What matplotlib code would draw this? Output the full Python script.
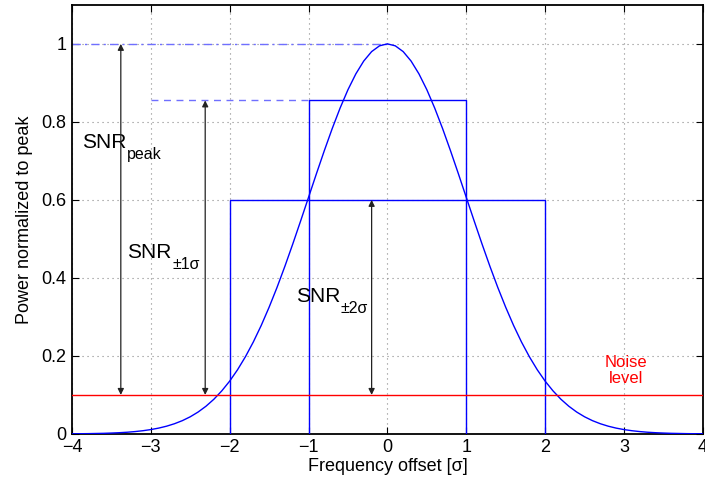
import numpy as np
import matplotlib
matplotlib.use('Agg')
import matplotlib.pyplot as plt

plt.rcParams['font.family'] = ['Liberation Sans', 'DejaVu Sans']
plt.rcParams['axes.unicode_minus'] = True

# Curva normalizada (um lado, x >= 0), espelhada para x < 0
x_half = [0.0, 0.1, 0.2, 0.3, 0.4, 0.5, 0.6, 0.7, 0.8, 0.9, 1.0,
          1.1, 1.2, 1.3, 1.4, 1.5, 1.6, 1.7, 1.8, 1.9, 2.0,
          2.1, 2.2, 2.3, 2.4, 2.5, 2.6, 2.7, 2.8, 2.9, 3.0,
          3.1, 3.2, 3.3, 3.4, 3.5, 3.6, 3.7, 3.8, 3.9, 4.0]
power_half = [1.0000, 0.9950, 0.9802, 0.9560, 0.9231, 0.8825, 0.8353, 0.7827, 0.7261, 0.6670, 0.6065,
              0.5461, 0.4868, 0.4296, 0.3753, 0.3247, 0.2780, 0.2357, 0.1979, 0.1645, 0.1353,
              0.1103, 0.0889, 0.0710, 0.0561, 0.0439, 0.0340, 0.0261, 0.0198, 0.0149, 0.0111,
              0.0082, 0.0060, 0.0043, 0.0031, 0.0022, 0.0015, 0.0011, 0.0007, 0.0005, 0.0003]

# Caixas de potencia media
box_half_widths = [1.0, 2.0]
box_heights = [0.855, 0.600]

noise_level = 0.1
peak_level = 1.0

# Setas SNR: (x, topo)
arrow_x = [-3.38, -2.31, -0.2]
arrow_top = [1.0, 0.855, 0.6]
snr_subs = ['peak', '±1σ', '±2σ']
snr_pos = [(-3.87, 0.733), (-3.30, 0.452), (-1.16, 0.338)]

xs = np.concatenate([-np.array(x_half[::-1]), np.array(x_half[1:])])
ys = np.concatenate([np.array(power_half[::-1]), np.array(power_half[1:])])

fig = plt.figure(figsize=(7.05, 4.87), dpi=100)
ax = fig.add_axes([0.102, 0.109, 0.895, 0.881])

blue = '#0000ff'
ax.plot(xs, ys, color=blue, lw=1.0, zorder=3)

for hw, h in zip(box_half_widths, box_heights):
    ax.plot([-hw, -hw, hw, hw], [0, h, h, 0], color=blue, lw=1.0, zorder=3)

ax.axhline(noise_level, color='#ff0000', lw=1.0, zorder=3)

# linhas de referencia tracejadas
ax.plot([-4, 0], [peak_level, peak_level], color='#6f6fff', lw=1.0,
        ls=(0, (6, 3, 1.5, 3)), zorder=2)
ax.plot([-3, -box_half_widths[0]], [box_heights[0], box_heights[0]],
        color='#6f6fff', lw=1.0, ls=(0, (5, 4)), zorder=2)

for xa, top in zip(arrow_x, arrow_top):
    ax.annotate('', xy=(xa, top), xytext=(xa, noise_level),
                arrowprops=dict(arrowstyle='<|-|>', lw=0.9, color='#222222',
                                mutation_scale=9, shrinkA=0, shrinkB=0), zorder=4)

renderer = fig.canvas.get_renderer()
for sub, (tx, ty) in zip(snr_subs, snr_pos):
    t = ax.text(tx, ty, 'SNR', fontsize=15, ha='left', va='baseline')
    w = t.get_window_extent(renderer=renderer).width * 72.0 / fig.dpi
    ax.annotate(sub, xy=(tx, ty), xytext=(w + 0.5, -8), textcoords='offset points',
                fontsize=11.5, ha='left', va='baseline')

ax.text(3.03, 0.162, 'Noise\nlevel', color='#ff0000', fontsize=12,
        ha='center', va='center', linespacing=1.05)

ax.set_xlim(-4, 4)
ax.set_ylim(0, 1.1)
ax.set_xticks(np.arange(-4, 5, 1))
ax.set_yticks([0, 0.2, 0.4, 0.6, 0.8, 1.0])
ax.set_yticklabels(['0', '0.2', '0.4', '0.6', '0.8', '1'])
ax.tick_params(direction='in', top=True, right=True, labelsize=13, length=5, width=0.8, pad=4)
ax.grid(True, ls=(0, (1, 3.5)), color='#888888', lw=0.8)
for sp in ax.spines.values():
    sp.set_linewidth(1.3)

ax.set_xlabel('Frequency offset [σ]', fontsize=13, labelpad=1)
ax.set_ylabel('Power normalized to peak', fontsize=13, labelpad=6)

fig.savefig('out.png', dpi=100)
